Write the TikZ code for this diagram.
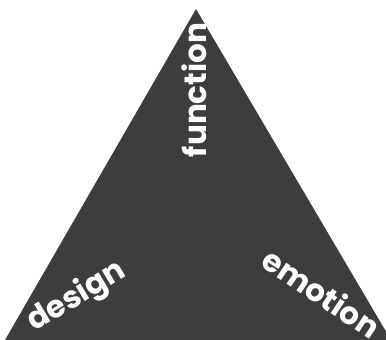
\documentclass[tikz,border=0pt]{standalone}
\usepackage{fontspec}
\setmainfont{Poppins}
\definecolor{tri}{HTML}{3D3D3D}
\begin{document}
\begin{tikzpicture}[x=1pt,y=-1pt,
  lbl/.style={text=white,font=\fontsize{31}{31}\selectfont\bfseries,inner sep=0pt,anchor=center}]
\useasboundingbox (0,0) rectangle (386,340);
\begin{scope}
\clip (0,0) rectangle (386,340);
\fill[tri] (196,9) coordinate (apex) -- (5,340) coordinate (bl) -- (391,340) coordinate (br) -- cycle;
\end{scope}
\node[lbl,rotate=90] (function) at (194,90) {function};
\node[lbl,rotate=31] (design) at (77,297) {design};
\node[lbl,rotate=-34] (emotion) at (322,293) {emotion};
\end{tikzpicture}
\end{document}
